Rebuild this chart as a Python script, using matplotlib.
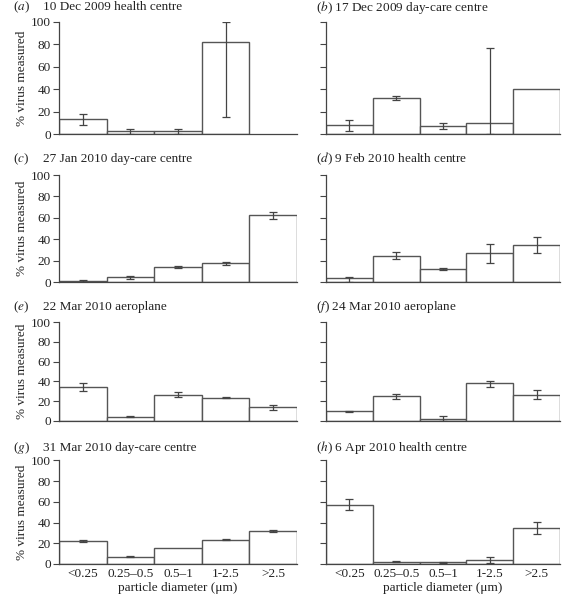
import numpy as np
import matplotlib
matplotlib.use("Agg")
import matplotlib.pyplot as plt

plt.rcParams['font.family'] = ['Liberation Serif', 'DejaVu Serif']
plt.rcParams['mathtext.fontset'] = 'stix'

categories = ['<0.25', '0.25–0.5', '0.5–1', '1-2.5', '>2.5']

letters = ['a', 'b', 'c', 'd', 'e', 'f', 'g', 'h']
titles = ['10 Dec 2009 health centre', '17 Dec 2009 day-care centre',
          '27 Jan 2010 day-care centre', '9 Feb 2010 health centre',
          '22 Mar 2010 aeroplane', '24 Mar 2010 aeroplane',
          '31 Mar 2010 day-care centre', '6 Apr 2010 health centre']

nan = np.nan
vals_a = [13.5, 2.7, 2.7, 82, nan]
lo_a = [8.3, 0, 0.5, 15, nan]
hi_a = [18, 4.7, 4.7, 100, nan]

vals_b = [8, 32, 7.5, 10, 40.5]
lo_b = [3.3, 30.4, 5, 0, nan]
hi_b = [13, 34.2, 10, 77, nan]

vals_c = [1.5, 4.7, 14, 17.7, 62.4]
lo_c = [0.7, 3.3, 13.2, 16.3, 58.7]
hi_c = [2.3, 6, 14.8, 19.2, 65.5]

vals_d = [3.7, 24.5, 12.4, 27, 34.5]
lo_d = [0.6, 21.7, 11.2, 18.3, 27]
hi_d = [5.2, 28.5, 13.4, 35.4, 42.5]

vals_e = [34, 4.1, 26.5, 23.4, 13.6]
lo_e = [30.5, 3.7, 23.8, 22.6, 11.2]
hi_e = [38, 4.5, 28.9, 24.1, 15.6]

vals_f = [9.5, 25.1, 1.4, 38.5, 25.8]
lo_f = [9, 22.4, 0, 34, 22.4]
hi_f = [10, 26.8, 4.5, 40, 30.9]

vals_g = [22.3, 6.8, 15.5, 23.3, 32]
lo_g = [21, 6.3, nan, 22.8, 31]
hi_g = [23.5, 7.3, nan, 23.8, 33]

vals_h = [57.3, 2.2, 1.6, 3.9, 35]
lo_h = [51.7, 1.7, 1.1, 0.6, 29.1]
hi_h = [63, 2.7, 2.1, 6.8, 40.4]

panels = [(vals_a, lo_a, hi_a), (vals_b, lo_b, hi_b), (vals_c, lo_c, hi_c),
          (vals_d, lo_d, hi_d), (vals_e, lo_e, hi_e), (vals_f, lo_f, hi_f),
          (vals_g, lo_g, hi_g), (vals_h, lo_h, hi_h)]

W, H = 562, 596
fig = plt.figure(figsize=(W / 100, H / 100), dpi=100)

# pixel layout
rows = [(21.7, 134.3), (175, 282.3), (322.3, 420.7), (460.3, 564)]
cols = [(59, 297), (326, 560)]
title_y = [7, 159, 307, 448]
title_x = [(13, 43), (316, None)]

txt = '#222222'
edge = '#555555'
for i, (v, lo, hi) in enumerate(panels):
    r, c = divmod(i, 2)
    y0, y1 = rows[r]
    x0, x1 = cols[c]
    ax = fig.add_axes([x0 / W, 1 - y1 / H, (x1 - x0) / W, (y1 - y0) / H])
    x = np.arange(len(categories))
    v = np.array(v, float)
    lo = np.array(lo, float)
    hi = np.array(hi, float)
    ok = ~np.isnan(v)
    ax.bar(x[ok], v[ok], width=1.0, color='white', edgecolor=edge, linewidth=1.0)
    eok = ~np.isnan(lo)
    ax.errorbar(x[eok], v[eok], yerr=[v[eok] - lo[eok], hi[eok] - v[eok]],
                fmt='none', ecolor='#444444', elinewidth=0.9, capsize=3, capthick=0.9)
    ax.set_xlim(-0.5, 4.5)
    ax.set_ylim(0, 100)
    ax.set_yticks([0, 20, 40, 60, 80, 100])
    for s in ['top', 'right']:
        ax.spines[s].set_visible(False)
    for s in ['left', 'bottom']:
        ax.spines[s].set_color('#444444')
        ax.spines[s].set_linewidth(0.9)
    ax.tick_params(axis='y', direction='out', length=4, width=0.8, color='#444444',
                   labelsize=9.5, pad=2, labelcolor=txt)
    ax.tick_params(axis='x', length=0, labelsize=9.5, pad=3, labelcolor=txt)
    ax.set_xticks(x)
    if r == 3:
        ax.set_xticklabels(categories)
        ax.set_xlabel('particle diameter (μm)', fontsize=9.5, color=txt, labelpad=1)
    else:
        ax.set_xticklabels([])
    if c == 0:
        ax.set_ylabel('% virus measured', fontsize=9.5, color=txt, labelpad=2)
    else:
        ax.set_yticklabels([])
    # titles
    lx, tx = title_x[c]
    ty = 1 - title_y[r] / H
    if tx is not None:
        fig.text(lx / W, ty, '(' + r'$\it{' + letters[i] + '}$' + ')', fontsize=9.5,
                 va='center', ha='left', color=txt)
        fig.text(tx / W, ty, titles[i], fontsize=9.5, va='center', ha='left', color=txt)
    else:
        fig.text(lx / W, ty, '(' + r'$\it{' + letters[i] + '}$' + ') ' + titles[i],
                 fontsize=9.5, va='center', ha='left', color=txt)

fig.savefig('out.png', dpi=100)
